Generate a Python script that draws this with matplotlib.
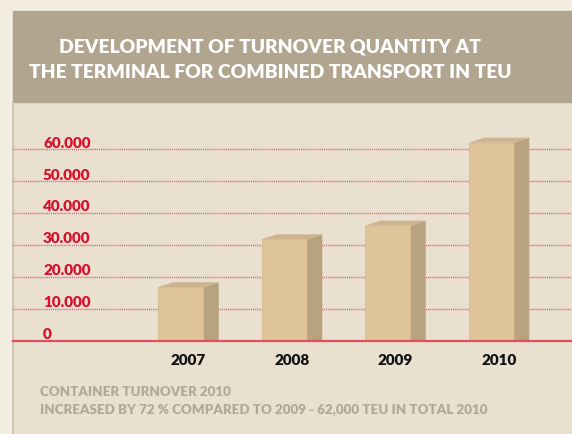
import matplotlib
matplotlib.use("Agg")
from matplotlib import pyplot as plt
from matplotlib.patches import Rectangle, Polygon
from matplotlib.lines import Line2D

# data
years = ["2007", "2008", "2009", "2010"]
teu = [16700, 31700, 36000, 62000]
y_ticks = [0, 10000, 20000, 30000, 40000, 50000, 60000]
y_tick_labels = ["0", "10.000", "20.000", "30.000", "40.000", "50.000", "60.000"]
title = "DEVELOPMENT OF TURNOVER QUANTITY AT\nTHE TERMINAL FOR COMBINED TRANSPORT IN TEU"
footer = ["CONTAINER TURNOVER 2010",
          "INCREASED BY 72 % COMPARED TO 2009 - 62,000 TEU IN TOTAL 2010"]

W, H = 572, 435
OUTER = "#f4ede2"
BODY = "#e9e0cf"
HEADER = "#b1a58f"
FRONT = "#dfc49a"
SIDE = "#b8a27f"
TOP = "#cdb48f"
RED = "#d8102a"
FONT = "Lato"

fig = plt.figure(figsize=(W / 100, H / 100), dpi=100, facecolor=OUTER)

def px(x, y, w, h):
    # pixel box (top-left origin) -> figure fraction
    return [x / W, 1 - (y + h) / H, w / W, h / H]

# panel and header band
bg = fig.add_axes(px(0, 0, W, H))
bg.set_xlim(0, W)
bg.set_ylim(H, 0)
bg.axis("off")
bg.add_patch(Rectangle((13, 12), W - 13, H - 12, color=BODY))
bg.add_patch(Rectangle((13, 12), W - 13, 91, color=HEADER))
bg.add_line(Line2D([13, 13], [103, H], color="#c9bfae", lw=1.2))
for k, line in enumerate(title.split("\n")):
    bg.text(270, 47 + 25 * k, line, ha="center", va="center", color="white",
            fontsize=13.9, fontweight="heavy", family=FONT)
for k, line in enumerate(footer):
    bg.text(40, 392 + 18 * k, line, ha="left", va="center", color="#b3a898",
            fontsize=9.6, fontweight="heavy", family=FONT)

# chart axes: zero at y=341.5px, 31.9px per 10000
unit = 31.9 / 10000
ymax = 72000
ax_h = ymax * unit
ax = fig.add_axes(px(13, 341.5 - ax_h, W - 13, ax_h))
step = 103.5
x0 = 181
ax.set_xlim((13 - x0) / step, (W - x0) / step)
ax.set_ylim(0, ymax)
ax.axis("off")

for v, lab in zip(y_ticks, y_tick_labels):
    if v > 0:
        ax.axhline(v, color="#e4606e", lw=1.0, ls=(0, (0.8, 0.7)), zorder=1)
    ax.annotate(lab, xy=((43 - 13) / (W - 13), v), xycoords=("axes fraction", "data"),
                xytext=(0, 1.8), textcoords="offset points", ha="left", va="baseline",
                color=RED, fontsize=11, fontweight="heavy", family=FONT)
ax.axhline(0, color="#e0505c", lw=1.6, zorder=5, clip_on=False)

bw = 45.5 / step
dx = 15 / step
dy = 5 / unit
for i, v in enumerate(teu):
    l, r = i - bw / 2, i + bw / 2
    ax.add_patch(Rectangle((l, 0), bw, v, facecolor=FRONT, edgecolor="#d7bb90", lw=0.6, zorder=3))
    ax.add_patch(Polygon([(r, 0), (r + dx, 0), (r + dx, v + dy), (r, v)],
                         facecolor=SIDE, edgecolor="none", zorder=3))
    ax.add_patch(Polygon([(l, v), (r, v), (r + dx, v + dy), (l + dx, v + dy)],
                         facecolor=TOP, edgecolor="none", zorder=3))
    ax.annotate(years[i], xy=(i + dx / 2, 0), xycoords="data", xytext=(0, -14),
                textcoords="offset points", ha="center", va="center",
                color="#111111", fontsize=11, fontweight="heavy", family=FONT,
                annotation_clip=False)

fig.savefig("out.png", dpi=100, facecolor=OUTER)
